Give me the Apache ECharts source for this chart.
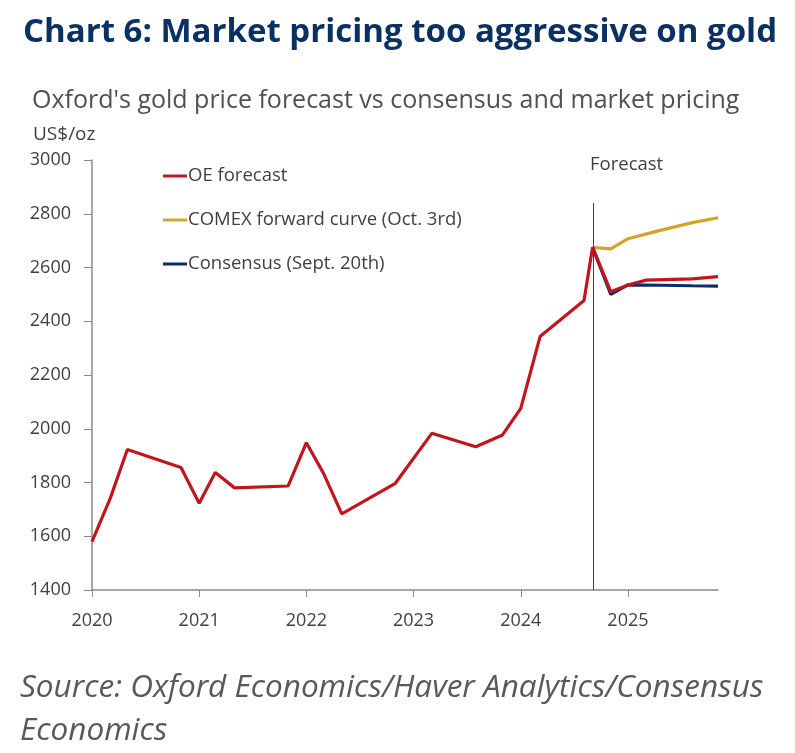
<!DOCTYPE html>
<html>
<head>
<meta charset="utf-8">
<script src="https://cdn.jsdelivr.net/npm/echarts@6/dist/echarts.min.js"></script>
<style>
  html,body{margin:0;padding:0;background:#fff;}
  #main{width:795px;height:753px;}
</style>
</head>
<body>
<div id="main"></div>
<script>
// data (x = decimal year)
var oeYears    = [2020.0, 2020.17, 2020.33, 2020.83, 2021.0, 2021.15, 2021.33, 2021.83, 2022.0, 2022.16, 2022.33, 2022.83, 2023.17, 2023.58, 2023.83, 2024.0, 2024.18, 2024.59, 2024.67, 2024.84, 2025.0, 2025.17, 2025.6, 2025.84];
var oeValues   = [1580, 1741, 1923, 1856, 1723, 1837, 1780, 1787, 1948, 1834, 1683, 1797, 1983, 1933, 1977, 2076, 2343, 2477, 2675, 2510, 2535, 2553, 2558, 2566];
var comexYears  = [2024.67, 2024.84, 2025.0, 2025.3, 2025.6, 2025.84];
var comexValues = [2675, 2669, 2707, 2738, 2767, 2785];
var consYears  = [2024.67, 2024.84, 2025.0, 2025.3, 2025.6, 2025.84];
var consValues = [2675, 2500, 2535, 2534, 2532, 2531];
var yearTicks  = [2020, 2021, 2022, 2023, 2024, 2025];
var forecastStart = 2024.68;

function pairs(xs, ys){
    var out=[];
    for(var i=0;i<xs.length;i++){ out.push([xs[i], ys[i]]); }
    return out;
}

var txt='#404040';
var chart=echarts.init(document.getElementById('main'));
chart.setOption({
    backgroundColor:'#fff',
    animation:false,
    textStyle:{fontFamily:'Open Sans'},
    title:[
        {text:'Chart 6: Market pricing too aggressive on gold',left:18,top:11,
         textStyle:{fontSize:33,fontWeight:'bold',color:'#0a3161',fontFamily:'Open Sans'}},
        {text:"Oxford's gold price forecast vs consensus and market pricing",left:27,top:83,
         textStyle:{fontSize:25,fontWeight:'normal',color:'#505050',fontFamily:'Open Sans'}},
        {text:'US$/oz',left:28,top:120,
         textStyle:{fontSize:19,fontWeight:'normal',color:txt,fontFamily:'Open Sans'}}
    ],
    legend:{
        orient:'vertical',left:158,top:159,itemGap:20,
        itemWidth:24,itemHeight:3,
        icon:'rect',
        textStyle:{fontSize:18.5,color:txt,padding:[0,0,0,-4],lineHeight:24},
        data:['OE forecast','COMEX forward curve (Oct. 3rd)','Consensus (Sept. 20th)']
    },
    grid:{left:92,right:77,top:160,bottom:163},
    xAxis:{
        type:'value',min:2020,max:2025.84,interval:1,
        axisLine:{lineStyle:{color:'#8a8a8a',width:1.5}},
        axisTick:{show:true,length:7,lineStyle:{color:'#8a8a8a'},customValues:yearTicks},
        axisLabel:{fontSize:18,color:txt,margin:22,customValues:yearTicks,formatter:function(v){return String(v);}},
        splitLine:{show:false}
    },
    yAxis:{
        type:'value',min:1400,max:3000,interval:200,
        axisLine:{show:true,lineStyle:{color:'#8a8a8a',width:1.5}},
        axisTick:{show:true,length:8,lineStyle:{color:'#8a8a8a'}},
        axisLabel:{fontSize:18,color:txt,margin:21,formatter:function(v){return String(v);}},
        splitLine:{show:false}
    },
    graphic:[
        {type:'text',left:590,top:155,style:{text:'Forecast',fontSize:18.5,fill:txt,fontFamily:'Open Sans'}},
        {type:'text',left:20,top:667,style:{text:'Source: Oxford Economics/Haver Analytics/Consensus\nEconomics',
            fontSize:31.5,fontStyle:'italic',fill:'#595959',fontFamily:'Open Sans',lineHeight:43}}
    ],
    series:[
        {
            name:'OE forecast',type:'line',symbol:'none',z:3,
            lineStyle:{color:'#c0161f',width:3.2},itemStyle:{color:'#c0161f'},
            data:pairs(oeYears,oeValues),
            markLine:{
                silent:true,symbol:'none',label:{show:false},
                lineStyle:{color:'#404040',width:1,type:'solid'},
                data:[[{coord:[forecastStart,1400]},{coord:[forecastStart,2840]}]]
            }
        },
        {
            name:'COMEX forward curve (Oct. 3rd)',type:'line',symbol:'none',z:2,
            lineStyle:{color:'#d4a32a',width:3.2},itemStyle:{color:'#d4a32a'},
            data:pairs(comexYears,comexValues)
        },
        {
            name:'Consensus (Sept. 20th)',type:'line',symbol:'none',z:2,
            lineStyle:{color:'#0b2e6b',width:3.2},itemStyle:{color:'#0b2e6b'},
            data:pairs(consYears,consValues)
        }
    ]
});
</script>
</body>
</html>
